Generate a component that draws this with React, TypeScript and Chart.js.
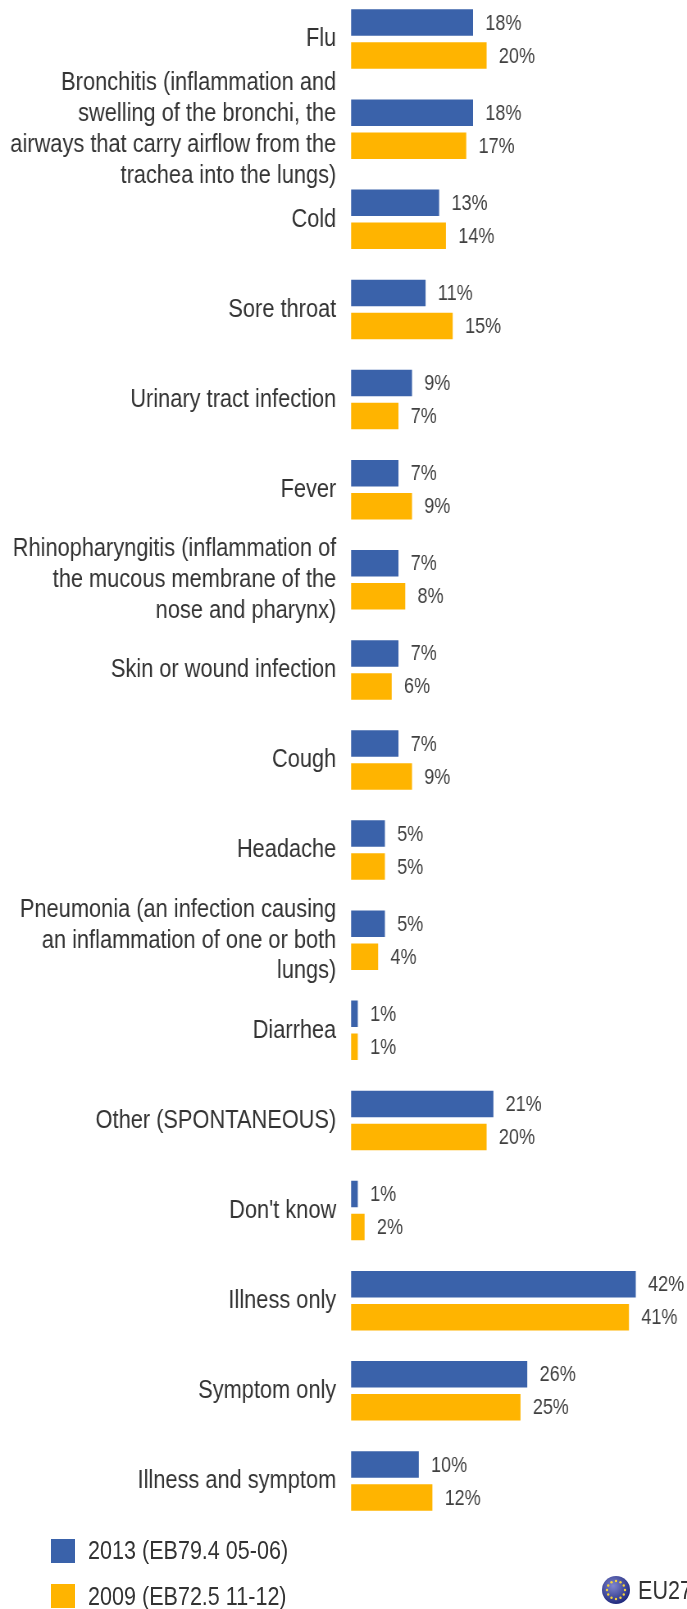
import React, { useEffect, useRef } from "react";
import { Chart, registerables } from "chart.js";

Chart.register(...registerables);

const categories: (string | string[])[] = [
  "Flu",
  ["Bronchitis (inflammation and", "swelling of the bronchi, the", "airways that carry airflow from the", "trachea into the lungs)"],
  "Cold",
  "Sore throat",
  "Urinary tract infection",
  "Fever",
  ["Rhinopharyngitis (inflammation of", "the mucous membrane of the", "nose and pharynx)"],
  "Skin or wound infection",
  "Cough",
  "Headache",
  ["Pneumonia (an infection causing", "an inflammation of one or both", "lungs)"],
  "Diarrhea",
  "Other (SPONTANEOUS)",
  "Don't know",
  "Illness only",
  "Symptom only",
  "Illness and symptom",
];
const series2013 = [18, 18, 13, 11, 9, 7, 7, 7, 7, 5, 5, 1, 21, 1, 42, 26, 10];
const series2009 = [20, 17, 14, 15, 7, 9, 8, 6, 9, 5, 4, 1, 20, 2, 41, 25, 12];
const name2013 = "2013 (EB79.4 05-06)";
const name2009 = "2009 (EB72.5 11-12)";
const scopeLabel = "EU27";

const BLUE = "#3A62AA";
const ORANGE = "#FFB400";
const FONT = '"Liberation Sans", Arial, sans-serif';
// The reference's text is horizontally condensed: the whole canvas is squeezed to match it.
const SQUEEZE = 687 / 838;

const valueLabels = {
  id: "valueLabels",
  afterDatasetsDraw(chart: any) {
    const { ctx } = chart;
    ctx.save();
    ctx.font = `22px ${FONT}`;
    ctx.fillStyle = "#404040";
    ctx.textAlign = "left";
    ctx.textBaseline = "middle";
    chart.data.datasets.forEach((ds: any, i: number) => {
      chart.getDatasetMeta(i).data.forEach((bar: any, j: number) => {
        ctx.fillText(`${ds.data[j]}%`, bar.x + 15, bar.y + 1);
      });
    });
    ctx.restore();
  },
};

function Swatch({ color, top }: { color: string; top: number }) {
  return <div style={{ position: "absolute", left: 51, top, width: 24, height: 24, background: color }} />;
}
function Caption({ text, left, top }: { text: string; left: number; top: number }) {
  return (
    <div
      style={{
        position: "absolute",
        left,
        top,
        font: `26.3px ${FONT}`,
        lineHeight: "30px",
        color: "#333",
        whiteSpace: "nowrap",
        transform: `scaleX(${SQUEEZE})`,
        transformOrigin: "left center",
      }}
    >
      {text}
    </div>
  );
}

export default function App() {
  const ref = useRef<HTMLCanvasElement>(null);
  useEffect(() => {
    const chart = new Chart(ref.current!, {
      type: "bar",
      data: {
        labels: categories as any,
        datasets: [
          { label: name2013, data: series2013, backgroundColor: BLUE, categoryPercentage: 0.7325, barPercentage: 0.803 },
          { label: name2009, data: series2009, backgroundColor: ORANGE, categoryPercentage: 0.7325, barPercentage: 0.803 },
        ],
      },
      options: {
        indexAxis: "y",
        responsive: false,
        animation: false,
        layout: { padding: { top: 0, bottom: 70, left: 0, right: 0 } },
        plugins: { legend: { display: false }, tooltip: { enabled: false } },
        scales: {
          x: { min: 0, max: 49.56, display: false },
          y: {
            afterFit: (s: any) => {
              s.width = 351 / SQUEEZE;
              s.paddingTop = 0;
              s.paddingBottom = 0;
            },
            grid: { display: false, drawTicks: false },
            border: { display: false },
            ticks: { autoSkip: false, padding: 18, color: "#333", font: { family: FONT, size: 26.6, lineHeight: 1.16 } },
          },
        },
      },
      plugins: [valueLabels],
    });
    return () => chart.destroy();
  }, []);
  return (
    <div style={{ position: "absolute", left: 0, top: 0, width: 687, height: 1609, overflow: "hidden", background: "#fff", filter: "blur(0.5px)" }}>
      <canvas
        ref={ref}
        width={838}
        height={1602}
        style={{ position: "absolute", left: 0, top: -6, width: 838, height: 1602, transform: `scaleX(${SQUEEZE})`, transformOrigin: "left top" }}
      />
      <Swatch color={BLUE} top={1539} />
      <Swatch color={ORANGE} top={1584} />
      <Caption text={name2013} left={88} top={1535} />
      <Caption text={name2009} left={88} top={1581} />
      <svg style={{ position: "absolute", left: 601, top: 1575 }} width="30" height="30" viewBox="0 0 30 30">
        <defs>
          <radialGradient id="g" cx="40%" cy="35%" r="70%">
            <stop offset="0%" stopColor="#7f86cf" />
            <stop offset="100%" stopColor="#1b2478" />
          </radialGradient>
        </defs>
        <circle cx="15" cy="15" r="14" fill="url(#g)" />
        {[0, 30, 60, 90, 120, 150, 180, 210, 240, 270, 300, 330].map((a) => (
          <circle key={a} cx={15 + 9 * Math.cos((a * Math.PI) / 180)} cy={15 + 9 * Math.sin((a * Math.PI) / 180)} r="1.2" fill="#f3d23c" />
        ))}
      </svg>
      <Caption text={scopeLabel} left={638} top={1575} />
    </div>
  );
}
